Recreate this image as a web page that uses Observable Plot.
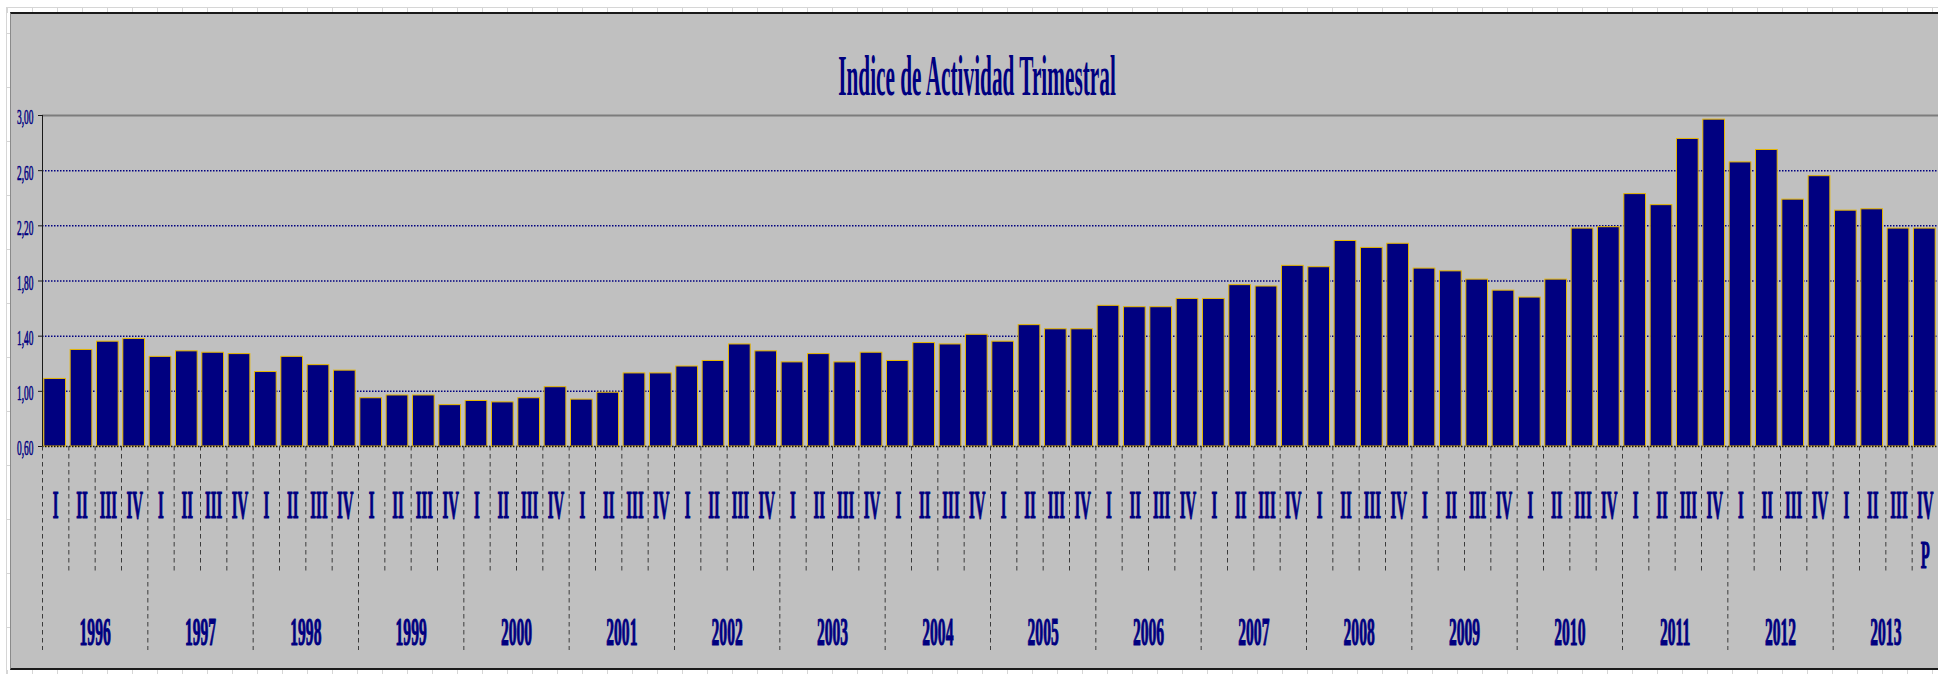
<!DOCTYPE html>
<html>
<head>
<meta charset="utf-8">
<script src="https://cdn.jsdelivr.net/npm/d3@7"></script>
<script src="https://cdn.jsdelivr.net/npm/@observablehq/plot@0.6"></script>
<style>
  html, body { margin: 0; padding: 0; background: #ffffff; overflow: hidden; }
  #wrap { position: relative; width: 1938px; height: 674px; overflow: hidden; background: #ffffff; }
  #cells-top { position: absolute; left: 6px; top: 7px; width: 1932px; height: 5px; border-top: 1px solid #d6d6d6;
    background: repeating-linear-gradient(to right, transparent 0 1px, #d6d6d6 1px 2px, transparent 2px 25px); }
  #cells-bottom { position: absolute; left: 6px; top: 670px; width: 1932px; height: 4px;
    background: repeating-linear-gradient(to right, transparent 0 1px, #d6d6d6 1px 2px, transparent 2px 25px); }
  #cells-left { position: absolute; left: 6px; top: 7px; width: 4px; height: 667px; border-left: 1px solid #d6d6d6;
    background: repeating-linear-gradient(to bottom, transparent 0 26px, #d6d6d6 26px 27px, transparent 27px 54px); }
  #panel { position: absolute; left: 10px; top: 12px; width: 1928px; height: 658px; box-sizing: border-box;
    background: #c0c0c0; border-top: 2px solid #1a1a1a; border-left: 1px solid #8a8a8a; border-bottom: 2px solid #1a1a1a; }
  #title { position: absolute; left: 977px; top: 48px; white-space: nowrap; line-height: 1;
    font-family: "Liberation Serif", "Times New Roman", serif; font-size: 56px; font-weight: bold; color: #000080;
    transform-origin: center top; transform: translateX(-50%) scaleX(0.38); }
  #chart { position: absolute; left: 0; top: 0; }
</style>
</head>
<body>
<div id="wrap">
  <div id="cells-top"></div>
  <div id="cells-left"></div>
  <div id="cells-bottom"></div>
  <div id="panel"></div>
  <div id="title"></div>
  <div id="chart"></div>
</div>
<script>
// ---- data ----
const titleText = "Indice de Actividad Trimestral";
const years = [1996, 1997, 1998, 1999, 2000, 2001, 2002, 2003, 2004, 2005, 2006, 2007, 2008, 2009, 2010, 2011, 2012, 2013];
const quarters = ["I", "II", "III", "IV"];
const values = [
  1.09, 1.30, 1.36, 1.38,
  1.25, 1.29, 1.28, 1.27,
  1.14, 1.25, 1.19, 1.15,
  0.95, 0.97, 0.97, 0.90,
  0.93, 0.92, 0.95, 1.03,
  0.94, 0.99, 1.13, 1.13,
  1.18, 1.22, 1.34, 1.29,
  1.21, 1.27, 1.21, 1.28,
  1.22, 1.35, 1.34, 1.41,
  1.36, 1.48, 1.45, 1.45,
  1.62, 1.61, 1.61, 1.67,
  1.67, 1.77, 1.76, 1.91,
  1.90, 2.09, 2.04, 2.07,
  1.89, 1.87, 1.81, 1.73,
  1.68, 1.81, 2.18, 2.19,
  2.43, 2.35, 2.83, 2.97,
  2.66, 2.75, 2.39, 2.56,
  2.31, 2.32, 2.18, 2.18
];
const yTicks = [0.6, 1.0, 1.4, 1.8, 2.2, 2.6, 3.0];
const notes = [{year: 2013, quarter: "IV", label: "P"}];

// ---- derived tables ----
const rows = values.map((v, i) => ({
  i, year: years[Math.floor(i / quarters.length)], quarter: quarters[i % quarters.length], value: v
}));
const yearRows = years.map((y, k) => ({year: y, mid: k * quarters.length + quarters.length / 2}));
const boundaries = d3.range(rows.length + 1);
const quarterBounds = boundaries.filter(b => b % quarters.length !== 0);
const yearBounds = boundaries.filter(b => b % quarters.length === 0);
const noteRows = notes.map(n => {
  const r = rows.find(r => r.year === n.year && r.quarter === n.quarter);
  return {i: r.i, label: n.label};
});

document.getElementById("title").textContent = titleText;

const navy = "#000080";
const serif = "Liberation Serif, Times New Roman, serif";
const fmt = d => d.toFixed(2).replace(".", ",");
const labelStyle = {
  frameAnchor: "bottom", lineAnchor: "middle", fontSize: 40, fontWeight: "bold", fontFamily: serif,
  fill: navy, stroke: navy, strokeWidth: 1.2
};

const plot = Plot.plot({
  width: 1938,
  height: 674,
  marginLeft: 42,
  marginRight: 0,
  marginTop: 115,
  marginBottom: 228,
  style: {background: "transparent", overflow: "visible"},
  x: {domain: [0, rows.length], axis: null},
  y: {domain: [yTicks[0], yTicks[yTicks.length - 1]], axis: null},
  marks: [
    Plot.ruleY(yTicks.slice(1, -1), {stroke: navy, strokeWidth: 1.5, strokeDasharray: "1.5 1.5"}),
    Plot.ruleY([yTicks[yTicks.length - 1]], {stroke: "#7c7c7c", strokeWidth: 2}),
    Plot.rect(rows, {
      x1: "i", x2: d => d.i + 1, y1: () => yTicks[0], y2: "value",
      insetLeft: 1.8, insetRight: 2.8,
      fill: navy, stroke: "#e8b800", strokeWidth: 1
    }),
    Plot.ruleY([yTicks[0]], {stroke: "#111111", strokeWidth: 1.5, strokeDasharray: "1.5 1.5"}),
    Plot.ruleX([0], {stroke: "#1a1a1a", strokeWidth: 1}),
    Plot.axisY(yTicks, {anchor: "left", tickSize: 4, stroke: "#1a1a1a", fill: "none", label: null}),
    Plot.axisY(yTicks, {
      anchor: "left", tickSize: 4, tickPadding: 5, stroke: "none", fill: navy, label: null,
      textStroke: navy, textStrokeWidth: 0.6,
      tickFormat: fmt, fontSize: 20, fontFamily: serif, dy: 2.5
    }),
    Plot.axisX(quarterBounds, {
      anchor: "bottom", tickSize: 127, stroke: "#3c3c3c", fill: "none", label: null,
      strokeDasharray: "4.5 3.5"
    }),
    Plot.axisX(yearBounds, {
      anchor: "bottom", tickSize: 204, stroke: "#3c3c3c", fill: "none", label: null,
      strokeDasharray: "4.5 3.5"
    }),
    Plot.text(rows, {x: d => d.i + 0.5, text: "quarter", dy: 59, ...labelStyle}),
    Plot.text(noteRows, {x: d => d.i + 0.5, text: "label", dy: 109, ...labelStyle}),
    Plot.text(yearRows, {x: "mid", text: d => String(d.year), dy: 186, ...labelStyle})
  ]
});

// condensed text: scale each label horizontally around its own anchor point
// (the text's own em-based y offset is kept; only a horizontal scale is appended)
function squeezeText(t, s) {
  const tr = t.getAttribute("transform") || "";
  t.setAttribute("transform", `${tr} scale(${s},1)`);
}
plot.querySelectorAll("text").forEach(t => {
  const g = t.closest("g[font-size]");
  const fs = g ? parseFloat(g.getAttribute("font-size")) : NaN;
  const content = t.textContent.trim();
  if (fs === 20) squeezeText(t, 0.47);
  else if (fs === 40) squeezeText(t, /^\d{4}$/.test(content) ? 0.39 : 0.37);
});

document.getElementById("chart").appendChild(plot);
</script>
</body>
</html>
